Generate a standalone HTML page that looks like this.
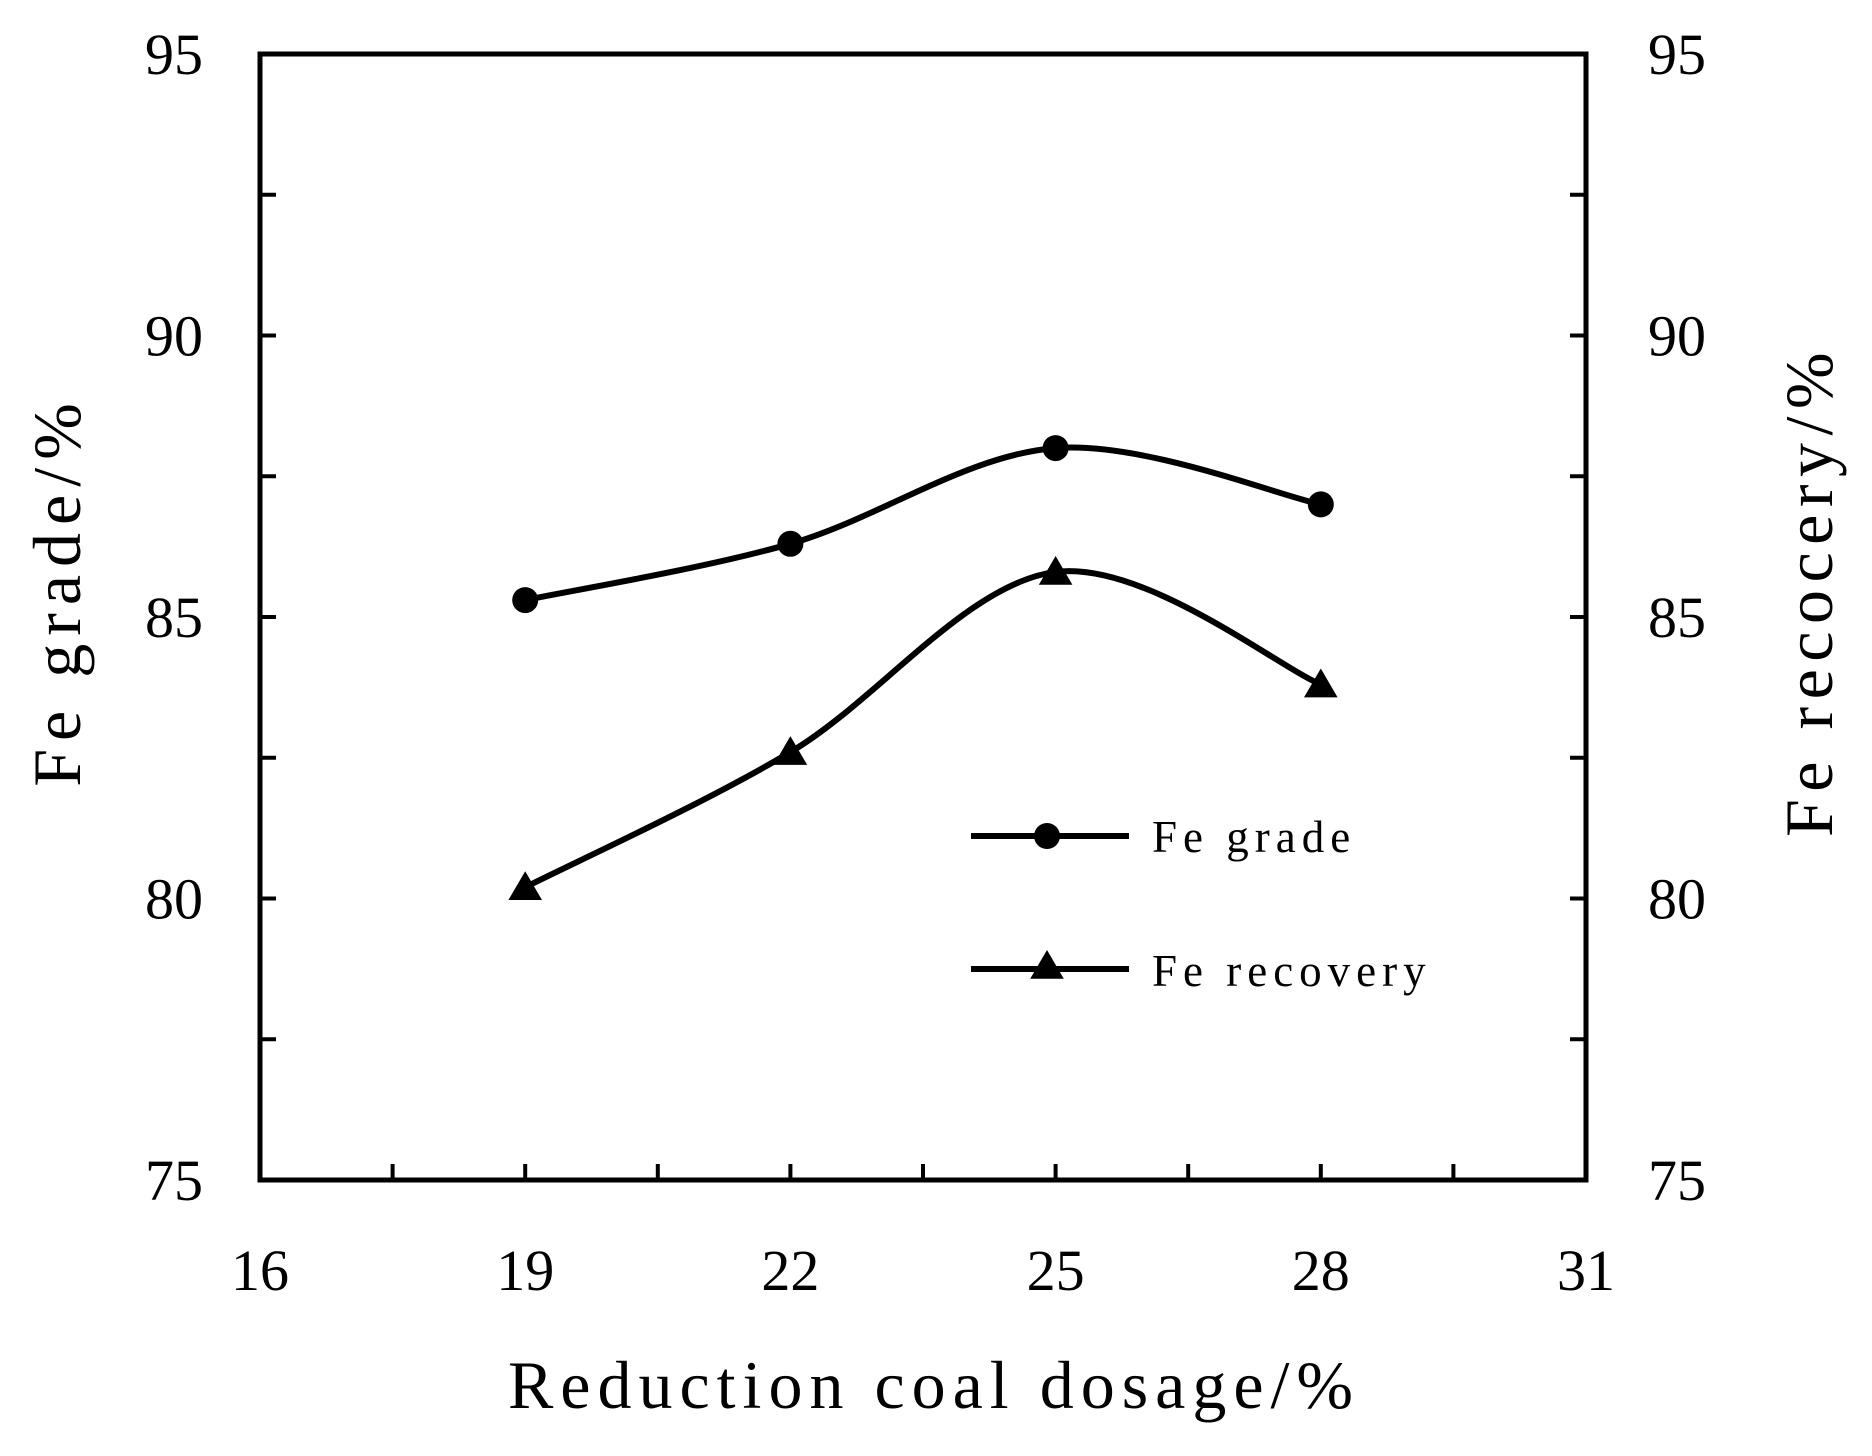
<!DOCTYPE html>
<html><head><meta charset="utf-8"><style>
html,body{margin:0;padding:0;background:#fff;}
svg{display:block;font-family:"Liberation Serif",serif;}
</style></head><body>
<svg id="chart" width="1872" height="1456" viewBox="0 0 1872 1456">
<g id="axes"></g>
<g id="series"></g>
<g id="legend"></g>
</svg>
<script>
const categories = [19, 22, 25, 28];
const gradeValues = [85.3, 86.3, 88.0, 87.0];
const recoveryValues = [80.2, 82.6, 85.8, 83.8];
const xTickLabels = [16, 19, 22, 25, 28, 31];
const yTickLabels = [75, 80, 85, 90, 95];

const NS = "http://www.w3.org/2000/svg";
const L = 260, R = 1586, T = 54, B = 1180;
const xs = v => L + (v - 16) / 15 * (R - L);
const ys = v => B - (v - 75) / 20 * (B - T);
function mk(tag, attrs, parent, text) {
  const e = document.createElementNS(NS, tag);
  for (const k in attrs) e.setAttribute(k, attrs[k]);
  if (text !== undefined) e.textContent = text;
  parent.appendChild(e);
  return e;
}
const axes = document.getElementById('axes');
const frame = mk('rect', {x: L, y: T, width: R - L, height: B - T, fill: 'none', stroke: '#000', 'stroke-width': 5}, axes);


for (let v = 77.5; v < 95; v += 2.5) {
  const tl = mk('line', {x1: L, x2: L + 16, y1: ys(v), y2: ys(v), stroke: '#000', 'stroke-width': 4}, axes);
  
  
  const tr = mk('line', {x1: R, x2: R - 16, y1: ys(v), y2: ys(v), stroke: '#000', 'stroke-width': 4}, axes);
  
  
}
for (let v = 17.5; v < 31; v += 1.5) {
  const tb = mk('line', {x1: xs(v), x2: xs(v), y1: B, y2: B - 16, stroke: '#000', 'stroke-width': 4}, axes);
  
  
}
yTickLabels.forEach(v => {
  const a = mk('text', {x: 203, y: ys(v) + 20, 'font-size': 58, 'text-anchor': 'end'}, axes, v);
  
  
  const b = mk('text', {x: 1648, y: ys(v) + 20, 'font-size': 58, 'text-anchor': 'start'}, axes, v);
  
  
});
xTickLabels.forEach(v => {
  const a = mk('text', {x: xs(v), y: 1290, 'font-size': 58, 'text-anchor': 'middle'}, axes, v);
  
  
});
const xt = mk('text', {x: 934, y: 1408, 'font-size': 68, 'letter-spacing': 7, 'text-anchor': 'middle'}, axes, 'Reduction coal dosage/%');


const yl = mk('text', {x: 0, y: 0, 'font-size': 68, 'letter-spacing': 8, 'text-anchor': 'middle', transform: 'translate(80,591) rotate(-90)'}, axes, 'Fe grade/%');


const yr = mk('text', {x: 0, y: 0, 'font-size': 68, 'letter-spacing': 7.5, 'text-anchor': 'middle', transform: 'translate(1832,591) rotate(-90)'}, axes, 'Fe recocery/%');



function smooth(pts) {
  let d = `M${pts[0][0]},${pts[0][1]}`;
  for (let i = 0; i < pts.length - 1; i++) {
    const p0 = pts[Math.max(0, i - 1)], p1 = pts[i], p2 = pts[i + 1], p3 = pts[Math.min(pts.length - 1, i + 2)];
    const t = 1 / 6;
    d += ` C${p1[0] + (p2[0] - p0[0]) * t},${p1[1] + (p2[1] - p0[1]) * t} ${p2[0] - (p3[0] - p1[0]) * t},${p2[1] - (p3[1] - p1[1]) * t} ${p2[0]},${p2[1]}`;
  }
  return d;
}
const series = document.getElementById('series');
function tri(cx, cy, s) { return `${cx},${cy - s} ${cx - s * 1.05},${cy + s * 0.8} ${cx + s * 1.05},${cy + s * 0.8}`; }
const gp = categories.map((c, i) => [xs(c), ys(gradeValues[i])]);
const rp = categories.map((c, i) => [xs(c), ys(recoveryValues[i])]);
const gl = mk('path', {d: smooth(gp), fill: 'none', stroke: '#000', 'stroke-width': 6}, series);


const rl = mk('path', {d: smooth(rp), fill: 'none', stroke: '#000', 'stroke-width': 6}, series);


gp.forEach(p => {
  const c = mk('circle', {cx: p[0], cy: p[1], r: 13, fill: '#000'}, series);
  
  
});
rp.forEach(p => {
  const t = mk('polygon', {points: tri(p[0], p[1], 16), fill: '#000'}, series);
  
  
});
const lg = document.getElementById('legend');
const l1 = mk('line', {x1: 971, x2: 1129, y1: 836, y2: 836, stroke: '#000', 'stroke-width': 6}, lg);


const m1 = mk('circle', {cx: 1047, cy: 836, r: 13, fill: '#000'}, lg);


const t1 = mk('text', {x: 1152, y: 852, 'font-size': 45, 'letter-spacing': 6}, lg, 'Fe grade');


const l2 = mk('line', {x1: 971, x2: 1129, y1: 969, y2: 969, stroke: '#000', 'stroke-width': 6}, lg);


const m2 = mk('polygon', {points: tri(1047, 966, 16), fill: '#000'}, lg);


const t2 = mk('text', {x: 1152, y: 986, 'font-size': 45, 'letter-spacing': 6}, lg, 'Fe recovery');


</script>
</body></html>
